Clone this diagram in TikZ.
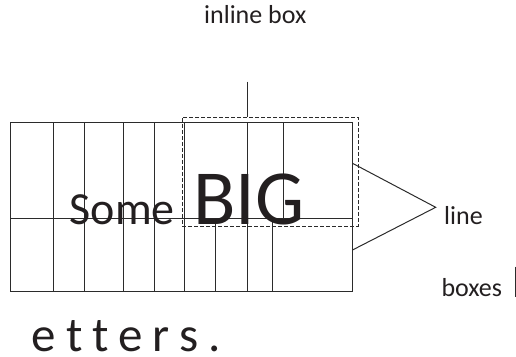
\documentclass[tikz,border=0pt]{standalone}
\usepackage{fontspec}
\setmainfont{Carlito}
\definecolor{ink}{HTML}{231F20}
\definecolor{rule}{HTML}{2B2B2B}
\begin{document}
\begin{tikzpicture}[x=1pt,y=-1pt,
  gridline/.style={draw=rule,line width=1pt},
  dashbox/.style={draw=rule,line width=1pt,dash pattern=on 4pt off 2pt},
  lbl/.style={inner sep=0pt,anchor=base west,text=ink,font=\fontsize{26}{30}\selectfont}]
\useasboundingbox (0,0) rectangle (516,356);
% grid
\draw[gridline] (10.5,122.5) rectangle (352.5,291.5);
\draw[gridline] (10.5,218.5) -- (352.5,218.5);
\foreach \x in {53.5,84.5,123.5,154.5,184.5,247.5,283.5}
  \draw[gridline] (\x,122.5) -- (\x,218.5);
\foreach \x in {53.5,84.5,123.5,154.5,184.5,215.5,247.5,272.5}
  \draw[gridline] (\x,218.5) -- (\x,291.5);
% texts
\node[lbl,font=\fontsize{46}{50}\selectfont] (some) at (69.5,224.3) {Some};
\node[lbl,font=\fontsize{78}{80}\selectfont] (big) at (193,224.3) {BIG};
\node[lbl] (inl) at (204,23.3) {inline box};
\node[lbl] (line) at (444,224) {line};
\node[lbl] (boxes) at (441.3,296.7) {boxes};
\node[lbl,font=\fontsize{49}{55}\selectfont\addfontfeature{LetterSpace=21,Ligatures=NoCommon}] (etters) at (31.5,351.5) {etters.};
% inline box (dashed)
\node[dashbox,inner sep=0pt,minimum width=176pt,minimum height=109pt,anchor=north west] (ibox) at (181.5,116.5) {};
\coordinate (ibstem) at (247.5,81.7);
\draw[gridline] (ibstem) -- (ibstem |- ibox.north);
% line box wedge
\coordinate (wtop) at (352.5,163.3);
\coordinate (wbot) at (352.5,250);
\coordinate (apex) at (435.7,207.3);
\draw[gridline] (wtop) -- (apex) -- (wbot);
% caret after boxes
\coordinate (ctop) at (515.5,266.7);
\coordinate (cbot) at (515.5,297);
\draw[gridline] (ctop) -- (cbot);
\end{tikzpicture}
\end{document}
